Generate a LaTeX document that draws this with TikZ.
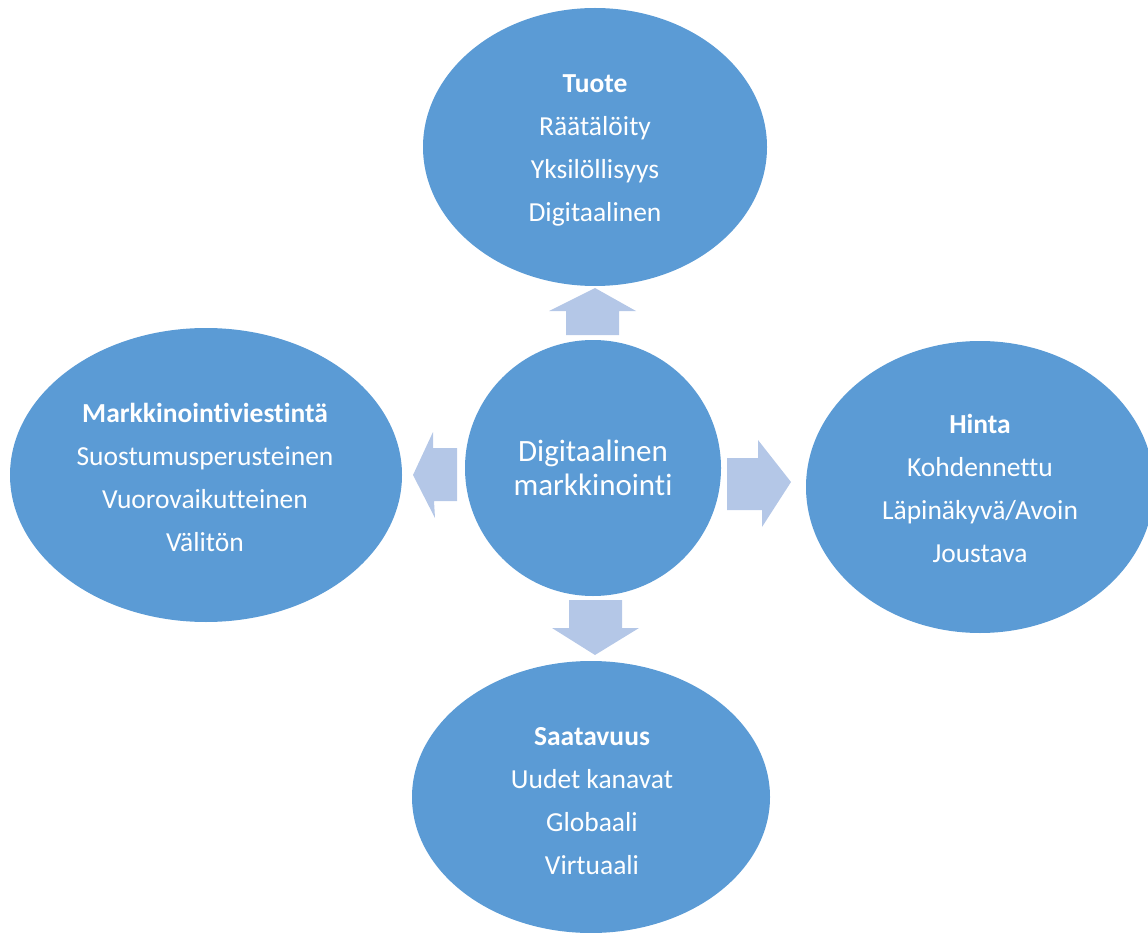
\documentclass[tikz,border=0pt]{standalone}
\usepackage{fontspec}
\setmainfont{Carlito}[RawFeature=-liga]
\usetikzlibrary{shapes.geometric}
\definecolor{ellblue}{HTML}{5B9BD5}
\definecolor{arrblue}{HTML}{B4C7E7}
\begin{document}
\begin{tikzpicture}[x=1pt,y=-1pt,
  bubble/.style={ellipse, fill=ellblue, draw=none, inner sep=0pt, text=white, align=center,
    font=\fontsize{27.5}{43}\selectfont},
  blockarrow/.style={fill=arrblue, draw=none}]
\useasboundingbox (0,0) rectangle (1148,933);
\clip (0,0) rectangle (1148,933);
% block arrows
\fill[blockarrow] (566,335) -- (566,311) -- (549,311) -- (595,288) -- (636,311) -- (619,311) -- (619,335) -- cycle;
\fill[blockarrow] (457,448) -- (433,448) -- (433,432) -- (413,475) -- (435,518) -- (434,501) -- (457,501) -- cycle;
\fill[blockarrow] (727,458) -- (758,458) -- (758,440) -- (791,482) -- (762,527) -- (762,510) -- (727,510) -- cycle;
\fill[blockarrow] (569,600) -- (622,600) -- (622,628) -- (639,628) -- (595,655) -- (552,628) -- (569,628) -- cycle;
% bubbles
\node[bubble, minimum width=344pt, minimum height=278pt] (tuote) at (595,147) {};
\node[text=white, align=center, font=\fontsize{27.5}{43}\selectfont] (tuotet) at (595,150)
  {\textbf{Tuote}\\Räätälöity\\Yksilöllisyys\\Digitaalinen};
\node[bubble, minimum width=392pt, minimum height=294pt] (mv) at (206,475) {};
\node[text=white, align=center, font=\fontsize{27.5}{43}\selectfont] (mvt) at (205,477)
  {\textbf{Markkinointiviestintä}\\Suostumusperusteinen\\Vuorovaikutteinen\\Välitön};
\node[bubble, minimum width=348pt, minimum height=292pt] (hinta) at (980,487) {};
\node[text=white, align=center, font=\fontsize{27.5}{43}\selectfont] (hintat) at (980,488)
  {\textbf{Hinta}\\Kohdennettu\\Läpinäkyvä/Avoin\\Joustava};
\node[bubble, minimum width=358pt, minimum height=272pt] (saat) at (591,797) {};
\node[text=white, align=center, font=\fontsize{27.5}{43}\selectfont] (saatt) at (592,801)
  {\textbf{Saatavuus}\\Uudet kanavat\\Globaali\\Virtuaali};
\node[circle, fill=ellblue, draw=none, inner sep=0pt, minimum size=256pt, text=white, align=center,
  font=\fontsize{31}{34}\selectfont] (dm) at (593,468) {Digitaalinen\\markkinointi};
\end{tikzpicture}
\end{document}
